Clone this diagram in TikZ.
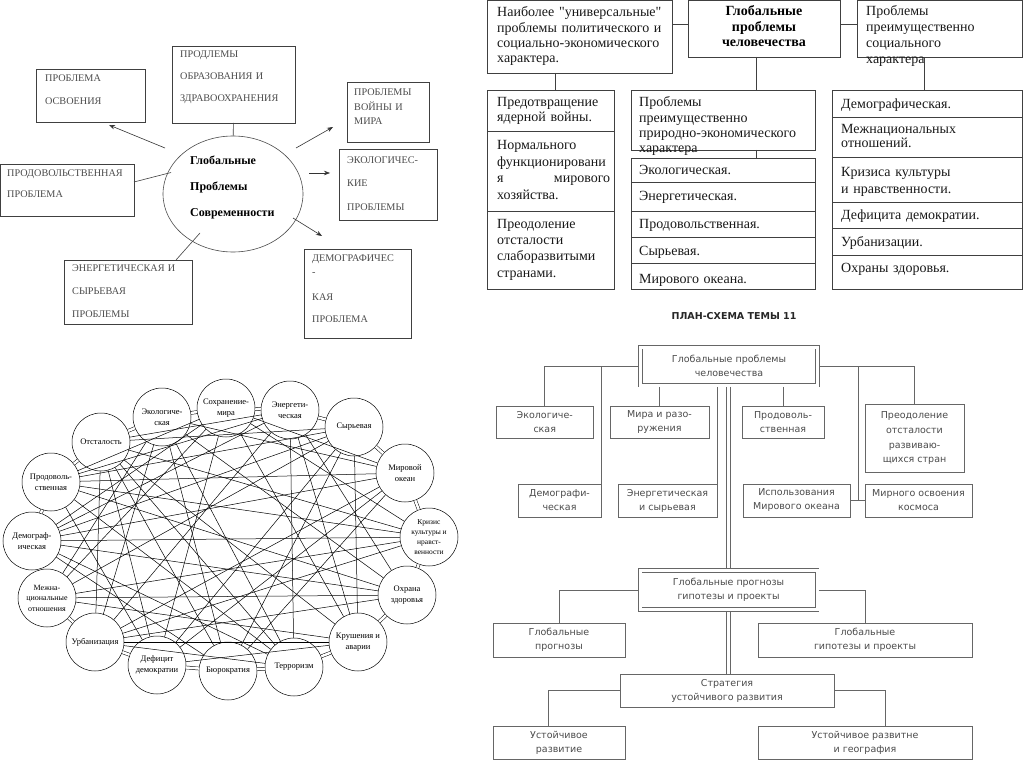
\documentclass[tikz,border=0pt]{standalone}
\usepackage{fontspec}
\setmainfont{Liberation Serif}
\newfontfamily\serifq{Liberation Serif}
\newfontfamily\dvs{DejaVu Sans}
\usetikzlibrary{shapes.geometric,arrows.meta,calc}
\newcommand\bxn[6][]{\node[#1,minimum width={#5-#3},minimum height={#6-#4}] (#2) at ({(#3+#5)/2},{(#4+#6)/2})}
\newcommand\sq{{\serifq"}}
\begin{document}
\begin{tikzpicture}[x=1pt,y=-1pt,
  bx/.style={draw=black!75,line width=0.6pt,inner sep=0pt,outer sep=0pt},
  tl/.style={font=\fontsize{10.2}{#1}\selectfont,text=black!70,anchor=base west,align=left,inner sep=0pt,text width=130pt},
  tr/.style={font=\fontsize{14}{#1}\selectfont,text=black!90,anchor=base west,align=left,inner sep=0pt,text width=200pt},
  arr/.style={draw=black!80,line width=0.6pt,-{Stealth[length=6pt,width=4.5pt]}},
  ln/.style={draw=black!75,line width=0.6pt},
  br/.style={draw=black!60,line width=0.6pt,inner sep=0pt,outer sep=0pt,font=\dvs\fontsize{9.5}{14}\selectfont,text=black!70,align=center},
  brd/.style={br,double,double distance=3pt,outer sep=1.8pt},
  brl/.style={draw=black!60,line width=0.6pt},
  circ/.style={circle,draw=black,line width=0.5pt,fill=white,minimum size=58pt,inner sep=0pt,font=\fontsize{8.5}{11}\selectfont,align=center},
  chord/.style={draw=black,line width=0.5pt},
  bridge/.style={draw=black,line width=0.5pt,double,double distance=2.5pt}
]
\fill[white] (0,0) rectangle (1024,767);
\useasboundingbox (0,0) rectangle (1024,767);

% ================= TOP LEFT =================
\bxn[bx]{osv}{36}{69}{145}{122}{};
\node[tl=23] (osvt) at (45,81.5) {ПРОБЛЕМА\\ОСВОЕНИЯ};
\bxn[bx]{obr}{172}{46}{295}{123}{};
\node[tl=22] (obrt) at (180,57.5) {ПРОДЛЕМЫ\\ОБРАЗОВАНИЯ И\\ЗДРАВООХРАНЕНИЯ};
\bxn[bx]{prod}{0.5}{164}{134}{216}{};
\node[tl=21.5] (prodt) at (7,176.5) {ПРОДОВОЛЬСТВЕННАЯ\\ПРОБЛЕМА};
\bxn[bx]{ener}{64}{260}{192}{324}{};
\node[tl=23] (enert) at (72,271.8) {ЭНЕРГЕТИЧЕСКАЯ И\\СЫРЬЕВАЯ\\ПРОБЛЕМЫ};
\bxn[bx]{voi}{347}{82}{429}{142}{};
\node[tl=14.3] (voit) at (354,95.8) {ПРОБЛЕМЫ\\ВОЙНЫ И\\МИРА};
\bxn[bx]{eco}{339}{149}{437}{220}{};
\node[tl=23.3] (ecot) at (347,163.5) {ЭКОЛОГИЧЕС-\\КИЕ\\ПРОБЛЕМЫ};
\bxn[bx]{dmg}{304}{249}{411}{338}{};
\node[tl=14] (dmgt) at (312,261.8) {ДЕМОГРАФИЧЕС\\-};
\node[tl=22.6] (dmgt2) at (312,300.2) {КАЯ\\ПРОБЛЕМА};

\node[draw=black!70,line width=0.6pt,ellipse,minimum width=140pt,minimum height=116pt,inner sep=0pt] (gl) at (233,194) {};
\node[font=\bfseries\fontsize{12}{26}\selectfont,anchor=base west,align=left,inner sep=0pt,text width=100pt] (glt) at (190,165) {Глобальные\\Проблемы\\Современности};

\draw[ln] (obr) -- (gl);
\coordinate (p1) at (134,182); \coordinate (p2) at (171,172.5);
\draw[ln] (p1) -- (p2);
\coordinate (e1) at (200,233);
\draw[ln] (e1) -- (ener.north -| 176,0);
\coordinate (a1s) at (165,148); \coordinate (a1e) at (109,125);
\coordinate (a2s) at (296,148); \coordinate (a2e) at (333,127);
\coordinate (a3s) at (309,173); \coordinate (a3e) at (330,173);
\coordinate (a4s) at (293,218); \coordinate (a4e) at (322,236);
\draw[arr] (a1s) -- (a1e);
\draw[arr] (a2s) -- (a2e);
\draw[arr] (a3s) -- (a3e);
\draw[arr] (a4s) -- (a4e);

% ================= TOP RIGHT =================
\bxn[bx]{tr1}{487}{0.5}{672}{73}{};
\bxn[bx]{trg}{688}{0.5}{840}{57}{};
\bxn[bx]{tr3}{857}{0.5}{1022}{57}{};
\node[tr=15.3] (tr1t) at (497,17) {Наиболее \sq универсальные\sq\\проблемы политического и\\социально-экономического\\характера.};
\node[font=\bfseries\fontsize{14}{15.5}\selectfont,align=center,anchor=base,inner sep=0pt,text width=150pt] (trgt) at (764,16) {Глобальные\\проблемы\\человечества};
\node[tr=16] (tr3t) at (866,16) {Проблемы\\преимущественно\\социального\\характера};
\draw[ln] (tr1.east |- 0,24) -- (trg.west |- 0,24);
\draw[ln] (trg.east |- 0,24) -- (tr3.west |- 0,24);

\bxn[bx]{lc1}{487}{90}{614}{131}{};
\bxn[bx]{lc2}{487}{131}{614}{211}{};
\bxn[bx]{lc3}{487}{211}{614}{289}{};
\bxn[bx]{mh}{631}{90}{815}{150}{};
\bxn[bx]{m1}{631}{158}{815}{182}{};
\bxn[bx]{m2}{631}{182}{815}{211}{};
\bxn[bx]{m3}{631}{211}{815}{237}{};
\bxn[bx]{m4}{631}{237}{815}{263}{};
\bxn[bx]{m5}{631}{263}{815}{289}{};
\bxn[bx]{r1}{832}{90}{1022}{117}{};
\bxn[bx]{r2}{832}{117}{1022}{157}{};
\bxn[bx]{r3}{832}{157}{1022}{202.5}{};
\bxn[bx]{r4}{832}{202.5}{1022}{228.5}{};
\bxn[bx]{r5}{832}{228.5}{1022}{255}{};
\bxn[bx]{r6}{832}{255}{1022}{289}{};

\draw[ln] (tr1.south -| 555,0) -- (lc1.north -| 555,0);
\draw[ln] (trg.south -| 756,0) -- (mh.north -| 756,0);
\draw[ln] (mh.south -| 756,0) -- (m1.north -| 756,0);
\draw[ln] (tr3.south -| 924,0) -- (r1.north -| 924,0);

\node[tr=15] (lc1t) at (497,107) {Предотвращение\\ядерной войны.};
\node[tr=16.5,text width=113pt] (lc2t) at (497,150) {Нормального\\функционировани\\я\hfill мирового\\хозяйства.};
\node[tr=16] (lc3t) at (497,229) {Преодоление\\отсталости\\слаборазвитыми\\странами.};
\node[tr=15.3] (mht) at (639,107) {Проблемы\\преимущественно\\природно-экономического\\характера};
\node[tr=15] (m1t) at (639,175) {Экологическая.};
\node[tr=15] (m2t) at (639,201) {Энергетическая.};
\node[tr=15] (m3t) at (639,229) {Продовольственная.};
\node[tr=15] (m4t) at (639,255) {Сырьевая.};
\node[tr=15] (m5t) at (639,283) {Мирового океана.};
\node[tr=15] (r1t) at (841,109) {Демографическая.};
\node[tr=14] (r2t) at (841,134) {Межнациональных\\отношений.};
\node[tr=17] (r3t) at (841,177) {Кризиса культуры\\и нравственности.};
\node[tr=15] (r4t) at (841,219) {Дефицита демократии.};
\node[tr=15] (r5t) at (841,246) {Урбанизации.};
\node[tr=15] (r6t) at (841,272) {Охраны здоровья.};

% ================= BOTTOM RIGHT =================
\node[font=\dvs\bfseries\fontsize{9.5}{11}\selectfont,text=black!85,inner sep=0pt] (title) at (734,316) {ПЛАН-СХЕМА ТЕМЫ 11};
\node[brd,minimum width=177pt,minimum height=38pt] (main) at (729,366) {Глобальные проблемы\\человечества};
\bxn[br]{eko}{496}{406}{593.5}{438}{Экологиче-\\ская};
\bxn[br]{mir}{610}{406}{709}{438}{Мира и разо-\\ружения};
\bxn[br]{prd}{742}{406}{824}{438}{Продоволь-\\ственная};
\bxn[br,font=\dvs\fontsize{9.5}{14.7}\selectfont]{preo}{865}{404}{964}{472.6}{Преодоление\\отсталости\\развиваю-\\щихся стран};
\bxn[br]{dem}{518}{484}{601}{517}{Демографи-\\ческая};
\bxn[br]{en}{618}{484}{717}{517}{Энергетическая\\и сырьевая};
\bxn[br]{isp}{743}{484}{850}{517}{Использования\\Мирового океана};
\bxn[br]{mirn}{865}{484}{972}{517}{Мирного освоения\\космоса};
\node[brd,minimum width=177pt,minimum height=39pt] (gpr) at (728.5,590) {Глобальные прогнозы\\гипотезы и проекты};
\bxn[br]{gprog}{493}{623.5}{625}{657}{Глобальные\\прогнозы};
\bxn[br]{ghyp}{758}{623.5}{972}{657}{Глобальные\\гипотезы и проекты};
\bxn[br]{strat}{620}{674}{834}{707}{Стратегия\\устойчивого развития};
\bxn[br]{ust1}{493}{726}{625}{759}{Устойчивое\\развитие};
\bxn[br]{ust2}{758}{726}{972}{759}{Устойчивое развитне\\и география};

\draw[brl] (main.west) -| (eko.north);
\draw[brl] (dem.north east |- main.west) -- (dem.north east);
\draw[brl] (mir.north |- main.south) -- (mir.north);
\draw[brl] (prd.north |- main.south) -- (prd.north);
\draw[brl] (en.north east |- main.south) -- (en.north east);
\draw[brl] (main.east) -| (preo.north);
\coordinate (vj) at (858,500.5);
\draw[brl] (vj |- main.east) -- (vj);
\draw[brl] (isp.east) -- (mirn.west);
\draw[brl] ([xshift=-1.8pt]gpr.north |- main.south) -- ([xshift=-1.8pt]gpr.north);
\draw[brl] ([xshift=1.8pt]gpr.north |- main.south) -- ([xshift=1.8pt]gpr.north);
\draw[brl] ([xshift=-1.8pt]gpr.south) -- ([xshift=-1.8pt]gpr.south |- strat.north);
\draw[brl] ([xshift=1.8pt]gpr.south) -- ([xshift=1.8pt]gpr.south |- strat.north);
\draw[brl] (gpr.west) -| (gprog.north);
\draw[brl] (gpr.east) -| (ghyp.north);
\draw[brl] (strat.west) -| ([xshift=-11pt]ust1.north);
\draw[brl] (strat.east) -| ([xshift=20pt]ust2.north);

% ================= BOTTOM LEFT =================
\node[circ] (c1) at (226,408) {Сохранение-\\мира};
\node[circ] (c2) at (290,410) {Энергети-\\ческая};
\node[circ] (c3) at (354,427) {Сырьевая};
\node[circ] (c4) at (405,473) {Мировой\\океан};
\node[circ,font=\fontsize{7.5}{10}\selectfont] (c5) at (429,537) {Кризис\\культуры и\\нравст-\\венности};
\node[circ] (c6) at (407,595) {Охрана\\здоровья};
\node[circ] (c7) at (358,642) {Крушения и\\аварии};
\node[circ] (c8) at (294,667) {Терроризм};
\node[circ] (c9) at (228,671) {Бюрократия};
\node[circ] (c10) at (157,665) {Дефицит\\демократии};
\node[circ] (c11) at (95,642) {Урбанизация};
\node[circ,font=\fontsize{8}{10.5}\selectfont] (c12) at (47,598) {Межна-\\циональные\\отношения};
\node[circ] (c13) at (32,541) {Демограф-\\ическая};
\node[circ] (c14) at (51,482) {Продоволь-\\ственная};
\node[circ] (c15) at (101,442) {Отсталость};
\node[circ] (c16) at (162,417) {Экологиче-\\ская};

\foreach \a/\b in {15/11,15/10,15/8,15/7,15/5,15/3,15/2,
  16/12,16/11,16/9,16/8,16/6,16/4,
  1/14,1/13,1/12,1/10,1/7,1/5,1/4,
  2/14,2/13,2/11,2/8,2/7,2/6,
  3/13,3/14,3/12,3/10,3/7,3/9,
  4/14,4/13,4/11,4/9,4/10,
  5/13,5/12,5/11,5/14,
  6/12,6/11,6/14,6/13,
  7/11,7/10,7/12,
  8/13,8/14,8/11,
  9/13,9/15,
  10/14}
  \draw[chord] (c\a) -- (c\b);
\foreach \a/\b in {1/2,2/3,3/4,4/5,5/6,6/7,7/8,8/9,9/10,10/11,11/12,12/13,13/14,14/15,15/16,16/1}
  \draw[bridge] (c\a) -- (c\b);
\end{tikzpicture}
\end{document}
